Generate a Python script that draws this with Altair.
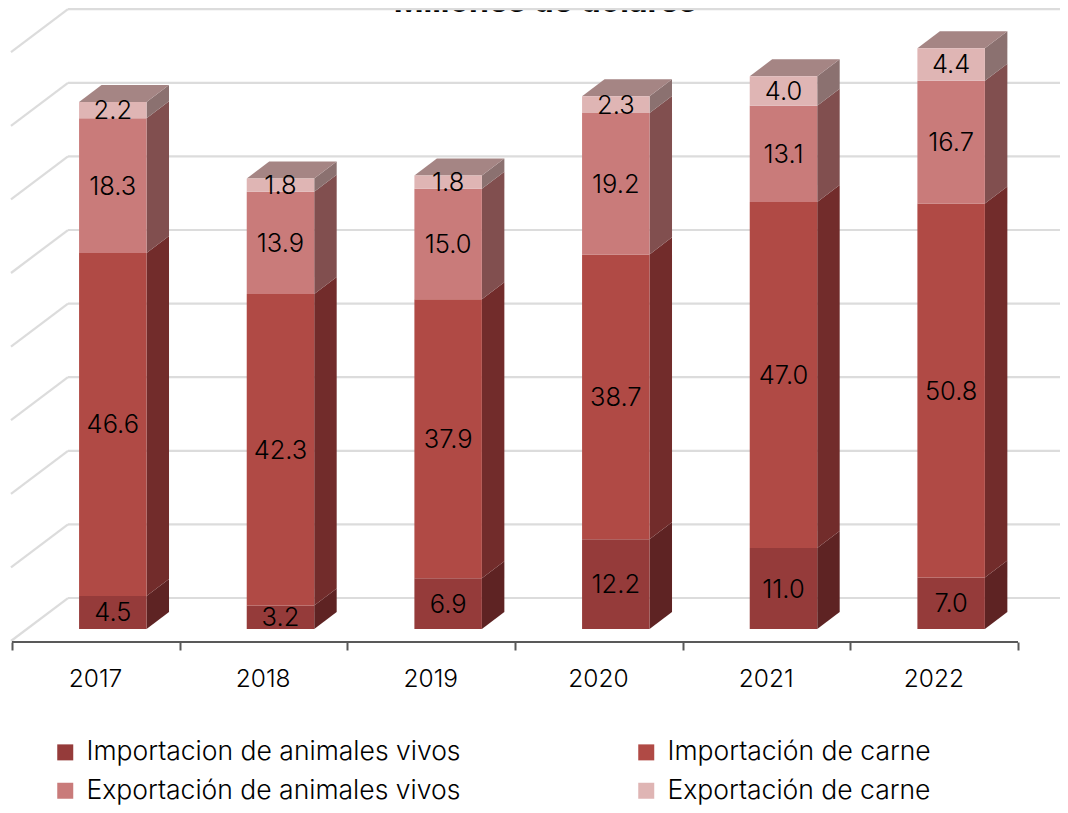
import json
import altair as alt
import pandas as pd

years = ["2017", "2018", "2019", "2020", "2021", "2022"]
series = ["Importacion de animales vivos", "Importación de carne",
          "Exportación de animales vivos", "Exportación de carne"]
imp_vivos = [4.5, 3.2, 6.9, 12.2, 11.0, 7.0]
imp_carne = [46.6, 42.3, 37.9, 38.7, 47.0, 50.8]
exp_vivos = [18.3, 13.9, 15.0, 19.2, 13.1, 16.7]
exp_carne = [2.2, 1.8, 1.8, 2.3, 4.0, 4.4]
values = [imp_vivos, imp_carne, exp_vivos, exp_carne]
grid_levels = [0, 10, 20, 30, 40, 50, 60, 70, 80]
title_text = "Millones de dolares"

front_colors = ["#953B3A", "#B04A45", "#C97B7A", "#DFB5B4"]
side_colors = ["#5E2323", "#722C2B", "#814F4F", "#8B7170"]
top_color = "#A58584"
grid_color = "#DCDCDC"
axis_color = "#595959"
FONT = "Inter"
TEXT = "#000000"

BAR_LEFT = 0.4
BAR_WIDTH = 0.4025
DEPTH_X = 0.134
DEPTH_Y = 2.31
WALL_X = 0.334
WALL_Y = 4.21
FLOOR_Y = 5.84
AXIS_Y = -1.766

PLOT_W, PLOT_H = 1052, 797
xs = alt.Scale(domain=[-0.02386, 6.2505], range=[0, PLOT_W], nice=False, zero=False)
ys = alt.Scale(domain=[-23.913, 84.375], range=[PLOT_H, 0], nice=False, zero=False)

label_list = json.dumps(years)
x_axis = alt.Axis(
    values=list(range(len(years) + 1)), title=None, offset=-163, grid=False, domain=False,
    tickColor=axis_color, tickWidth=2, tickSize=8,
    labelExpr=f"datum.value < {len(years)} ? {label_list}[datum.value] : ''",
    labelOffset=83, labelFont=FONT, labelFontSize=24.5, labelFontWeight=300, labelColor=TEXT,
    labelPadding=17, labelOverlap=False, labelBound=False, labelFlush=False,
)


def X(field):
    return alt.X(field, type="quantitative", scale=xs, axis=x_axis)


def Y(field):
    return alt.Y(field, type="quantitative", scale=ys, axis=None, stack=None)


fronts, sides, tops = [], [], []
for i, year in enumerate(years):
    base = 0.0
    left = i + BAR_LEFT
    right = left + BAR_WIDTH
    for s, name in enumerate(series):
        val = values[s][i]
        top = base + val
        fronts.append({"year": year, "serie": name, "x": left, "x2": right,
                       "y": base, "y2": top, "mid": (base + top) / 2,
                       "cx": (left + right) / 2, "label": f"{val:.1f}"})
        sides.append({"id": f"{year}-{s}", "s": s, "x": right, "y": base, "y2": top})
        sides.append({"id": f"{year}-{s}", "s": s, "x": right + DEPTH_X,
                      "y": base + DEPTH_Y, "y2": top + DEPTH_Y})
        base = top
    tops.append({"id": year, "y": base, "x": left, "x2": right})
    tops.append({"id": year, "y": base + DEPTH_Y, "x": left + DEPTH_X, "x2": right + DEPTH_X})

fronts = pd.DataFrame(fronts)
sides = pd.DataFrame(sides)
tops = pd.DataFrame(tops)

wall = pd.DataFrame({"y": [g + WALL_Y for g in grid_levels], "x": WALL_X, "x2": 6.298})
diag = pd.DataFrame(
    [{"g": g, "x": -0.006, "y": g + WALL_Y - FLOOR_Y} for g in grid_levels]
    + [{"g": g, "x": WALL_X, "y": g + WALL_Y} for g in grid_levels]
)
axis_line = pd.DataFrame({"x": [0], "x2": [len(years)], "y": [AXIS_Y]})

layers = [
    alt.Chart(pd.DataFrame({"t": [title_text], "x": [3.18], "y": [83.83]})).mark_text(
        font=FONT, fontSize=32, fontWeight="bold", color=TEXT, baseline="alphabetic"
    ).encode(x=X("x"), y=Y("y"), text="t:N"),
    alt.Chart(wall).mark_rule(color=grid_color, strokeWidth=2.2).encode(x=X("x"), x2="x2", y=Y("y")),
    alt.Chart(diag).mark_line(color=grid_color, strokeWidth=2.2).encode(x=X("x"), y=Y("y"), detail="g:N"),
    alt.Chart(axis_line).mark_rule(color=axis_color, strokeWidth=2).encode(x=X("x"), x2="x2", y=Y("y")),
]
for s in range(len(series)):
    layers.append(
        alt.Chart(sides[sides.s == s]).mark_area(color=side_colors[s], opacity=1).encode(
            x=X("x"), y=Y("y"), y2="y2", detail="id:N"
        )
    )
layers.append(
    alt.Chart(tops).mark_area(color=top_color, orient="horizontal", opacity=1).encode(
        y=Y("y"), x=alt.X("x", type="quantitative", scale=xs, axis=x_axis, stack=None),
        x2="x2", detail="id:N"
    )
)
layers.append(
    alt.Chart(fronts).mark_rect(strokeWidth=0).encode(
        x=X("x"), x2="x2", y=Y("y"), y2="y2",
        color=alt.Color(
            "serie:N",
            scale=alt.Scale(domain=series, range=front_colors),
            legend=alt.Legend(
                title=None, orient="none", legendX=44, legendY=731, columns=2,
                direction="horizontal", symbolType="square", symbolSize=256,
                symbolStrokeWidth=0, labelFont=FONT, labelFontSize=26.5, labelFontWeight=300,
                labelColor=TEXT, labelLimit=500, columnPadding=172, rowPadding=11.5,
                labelOffset=8, padding=0,
            ),
        ),
    )
)
layers.append(
    alt.Chart(fronts).mark_text(font=FONT, fontSize=25.5, fontWeight=300, color=TEXT,
                                baseline="middle", dy=1).encode(
        x=X("cx"), y=Y("mid"), text="label:N"
    )
)

chart = alt.layer(*layers).properties(
    width=PLOT_W, height=PLOT_H, padding=0,
    autosize=alt.AutoSizeParams(type="none"),
).configure_view(stroke=None)

chart.save("out.html", embed_options={"renderer": "svg", "actions": False})
